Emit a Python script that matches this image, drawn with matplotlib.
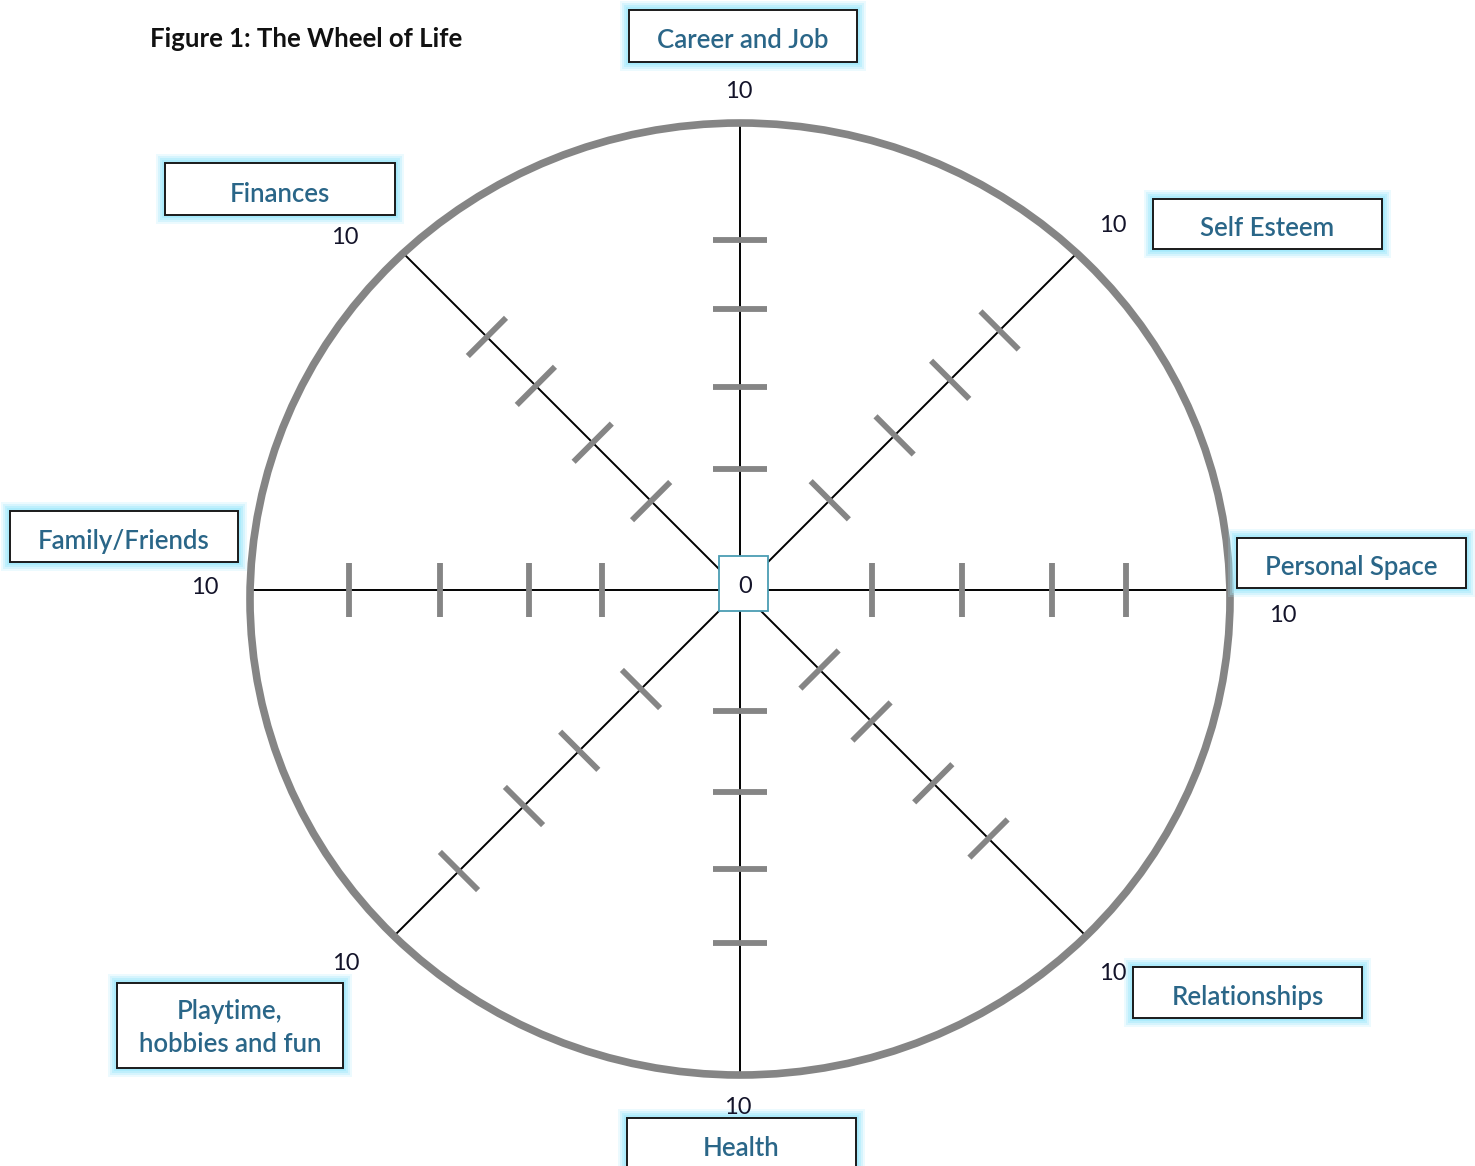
import numpy as np
import matplotlib.pyplot as plt
from matplotlib.patches import Rectangle, Ellipse

plt.rcParams['font.family'] = ['Lato', 'DejaVu Sans']

# wheel categories, clockwise from the top
categories = ["Career and Job", "Self Esteem", "Personal Space", "Relationships",
              "Health", "Playtime,\nhobbies and fun", "Family/Friends", "Finances"]
angles = [90, 45, 0, -45, -90, -135, 180, 135]
scale_min = 0
scale_max = 10
# tick marks (0-10 scale)
tick_values = [
    [2.0, 3.9, 5.7, 7.3],
    [2.0, 4.1, 5.9, 7.5],
    [2.25, 4.2, 6.15, 7.75],
    [1.8, 3.4, 5.3, 7.0],
    [2.15, 3.9, 5.55, 7.15],
    [2.4, 4.3, 6.0, 8.0],
    [2.5, 4.05, 5.95, 7.9],
    [2.15, 4.0, 5.8, 7.35],
]

# layout (pixels)
W, H = 1475, 1166
hub = (740, 590)
hub_box = (719, 556, 49, 55)
rim_c = (740, 599)
rim_rx, rim_ry = 490, 476
label_boxes = [(629, 10, 228, 52), (1153, 199, 229, 50), (1237, 538, 229, 50),
               (1133, 967, 229, 51), (627, 1118, 229, 70), (117, 983, 226, 85),
               (10, 511, 228, 51), (165, 163, 230, 52)]
max_pos = [(739, 91), (1113, 225), (1283, 616), (1113, 973),
           (738, 1108), (346, 964), (205, 587), (345, 238)]

fig = plt.figure(figsize=(W / 100, H / 100), dpi=100)
ax = fig.add_axes([0, 0, 1, 1])
ax.set_xlim(0, W)
ax.set_ylim(H, 0)
ax.set_axis_off()

grey = '#858585'
txt_blue = '#2a6688'
num_col = '#14142a'

ax.add_patch(Ellipse(rim_c, 2 * rim_rx, 2 * rim_ry, fill=False, ec=grey, lw=5.5, zorder=3))


def box_exit(d):
    bx, by, bw, bh = hub_box
    tx = ((bx + bw if d[0] > 0 else bx) - hub[0]) / d[0] if abs(d[0]) > 1e-9 else np.inf
    ty = ((by + bh if d[1] > 0 else by) - hub[1]) / d[1] if abs(d[1]) > 1e-9 else np.inf
    return min(tx, ty)


def rim_hit(d):
    px, py = hub[0] - rim_c[0], hub[1] - rim_c[1]
    a = (d[0] / rim_rx) ** 2 + (d[1] / rim_ry) ** 2
    b = 2 * (px * d[0] / rim_rx ** 2 + py * d[1] / rim_ry ** 2)
    c = (px / rim_rx) ** 2 + (py / rim_ry) ** 2 - 1
    return (-b + np.sqrt(b * b - 4 * a * c)) / (2 * a)


tick_len = 27
for ang, ticks in zip(angles, tick_values):
    d = np.array([np.cos(np.radians(ang)), -np.sin(np.radians(ang))])
    t0, t1 = box_exit(d), rim_hit(d)
    p0 = np.array(hub) + t0 * d
    p1 = np.array(hub) + t1 * d
    ax.plot([p0[0], p1[0]], [p0[1], p1[1]], color='black', lw=1.4, zorder=2)
    n = np.array([-d[1], d[0]])
    for v in ticks:
        f = (v - scale_min) / (scale_max - scale_min)
        p = p0 + f * (p1 - p0)
        ax.plot([p[0] - n[0] * tick_len, p[0] + n[0] * tick_len],
                [p[1] - n[1] * tick_len, p[1] + n[1] * tick_len],
                color=grey, lw=4.2, solid_capstyle='butt', zorder=2)

bx, by, bw, bh = hub_box
ax.add_patch(Rectangle((bx, by), bw, bh, fc='white', ec='#4b9db3', lw=1.3, zorder=4))
ax.text(bx + bw / 2 + 2, by + bh / 2 + 3, str(scale_min), ha='center', va='center',
        fontsize=17, color=num_col, zorder=5)

for name, (x, y, w, h), (mx, my) in zip(categories, label_boxes, max_pos):
    for grow, alpha in [(9, 0.2), (7, 0.3), (5, 0.45), (3, 0.65), (1.5, 0.85)]:
        ax.add_patch(Rectangle((x - grow, y - grow), w + 2 * grow, h + 2 * grow,
                               fc='#a4e9fb', ec='none', alpha=alpha, zorder=5))
    ax.add_patch(Rectangle((x, y), w, h, fc='white', ec='#1a1a1a', lw=1.4, zorder=6))
    ty = y + min(h, 52) / 2 + 5 if '\n' not in name else y + h / 2 + 3
    if name == "Health":
        ty = y + 31
    ax.text(x + w / 2, ty, name, ha='center', va='center', fontsize=18.5,
            fontweight='semibold', color=txt_blue, linespacing=1.4, zorder=7)
    ax.text(mx, my, str(scale_max), ha='center', va='center', fontsize=17,
            color=num_col, zorder=7)

ax.text(150, 39, "Figure 1: The Wheel of Life", ha='left', va='center',
        fontsize=18.5, fontweight='bold', color='#111111')

fig.savefig('out.png', dpi=100)
